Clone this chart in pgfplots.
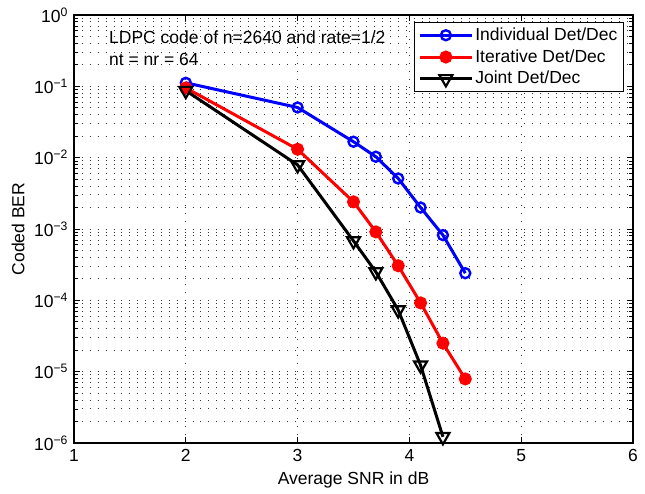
\documentclass[border=0pt]{standalone}
\usepackage{fontspec}
\setmainfont{Liberation Sans}
\usepackage{pgfplots}
\pgfplotsset{compat=1.18}

\newcommand{\figfont}{\fontsize{17.5}{21}\selectfont}

\begin{document}
\figfont
\begin{tikzpicture}
\begin{axis}[
    scale only axis,
    width=559pt, height=428pt,
    xmin=1, xmax=6,
    ymin=1e-6, ymax=1,
    ymode=log,
    xtick={1,2,3,4,5,6},
    ytick={1e-6,1e-5,1e-4,1e-3,1e-2,1e-1,1},
    yticklabels={10\textsuperscript{−6},10\textsuperscript{−5},10\textsuperscript{−4},
                 10\textsuperscript{−3},10\textsuperscript{−2},10\textsuperscript{−1},
                 10\textsuperscript{0}},
    /pgf/number format/assume math mode=true,
    tick label style={font=\figfont},
    label style={font=\figfont},
    xlabel={Average SNR in dB},
    ylabel={Coded BER},
    xlabel style={at={(rel axis cs:0.5,-0.086)}, anchor=center},
    ylabel style={at={(rel axis cs:-0.100,0.5)}, anchor=center},
    grid=both,
    major grid style={black!80, line width=0.9pt, dash pattern=on 0.9pt off 7pt},
    minor grid style={black!80, line width=0.9pt, dash pattern=on 0.9pt off 7pt},
    tick align=inside,
    major tick length=6pt,
    minor tick length=3.5pt,
    every tick/.style={black, line width=0.8pt},
    axis line style={line width=1.3pt},
    clip=false,
    legend cell align=left,
    legend style={at={(rel axis cs:0.9839,0.9836)}, anchor=north east,
                  draw=black, line width=1.2pt, font=\figfont,
                  inner xsep=4pt, inner ysep=3pt, row sep=2.5pt},
    legend image code/.code={%
        \draw[mark repeat=2, mark phase=2]
            plot coordinates {(0pt,0pt) (26pt,0pt) (52pt,0pt)};},
]
\addplot[blue, line width=3pt, mark=o, mark size=5pt,
         mark options={line width=2.4pt}]
    coordinates {
        (2,0.112) (3,0.0505) (3.5,0.0167) (3.7,0.0103) (3.9,0.0051)
        (4.1,0.0020) (4.3,8.2e-4) (4.5,2.4e-4)
    };
\addlegendentry{Individual Det/Dec}
\addplot[red, line width=3pt, mark=*, mark size=5pt]
    coordinates {
        (2,0.095) (3,0.0131) (3.5,2.4e-3) (3.7,9.1e-4) (3.9,3.05e-4)
        (4.1,9.2e-5) (4.3,2.5e-5) (4.5,7.9e-6)
    };
\addlegendentry{Iterative Det/Dec}
\addplot[black, line width=3pt, mark=triangle, mark size=7.5pt,
         mark options={rotate=180, line width=2.2pt}]
    coordinates {
        (2,0.087) (3,7.9e-3) (3.5,6.8e-4) (3.7,2.5e-4) (3.9,7.3e-5)
        (4.1,1.23e-5) (4.3,1.22e-6)
    };
\addlegendentry{Joint Det/Dec}
\node[anchor=west, inner sep=0pt] at (rel axis cs:0.0626,0.9486) {LDPC code of n=2640 and rate=1/2};
\node[anchor=west, inner sep=0pt] at (rel axis cs:0.0626,0.8950) {nt = nr = 64};
\path (rel axis cs:-0.1324,-0.1051) rectangle (rel axis cs:1.0215,1.035);
\end{axis}
\end{tikzpicture}
\end{document}
